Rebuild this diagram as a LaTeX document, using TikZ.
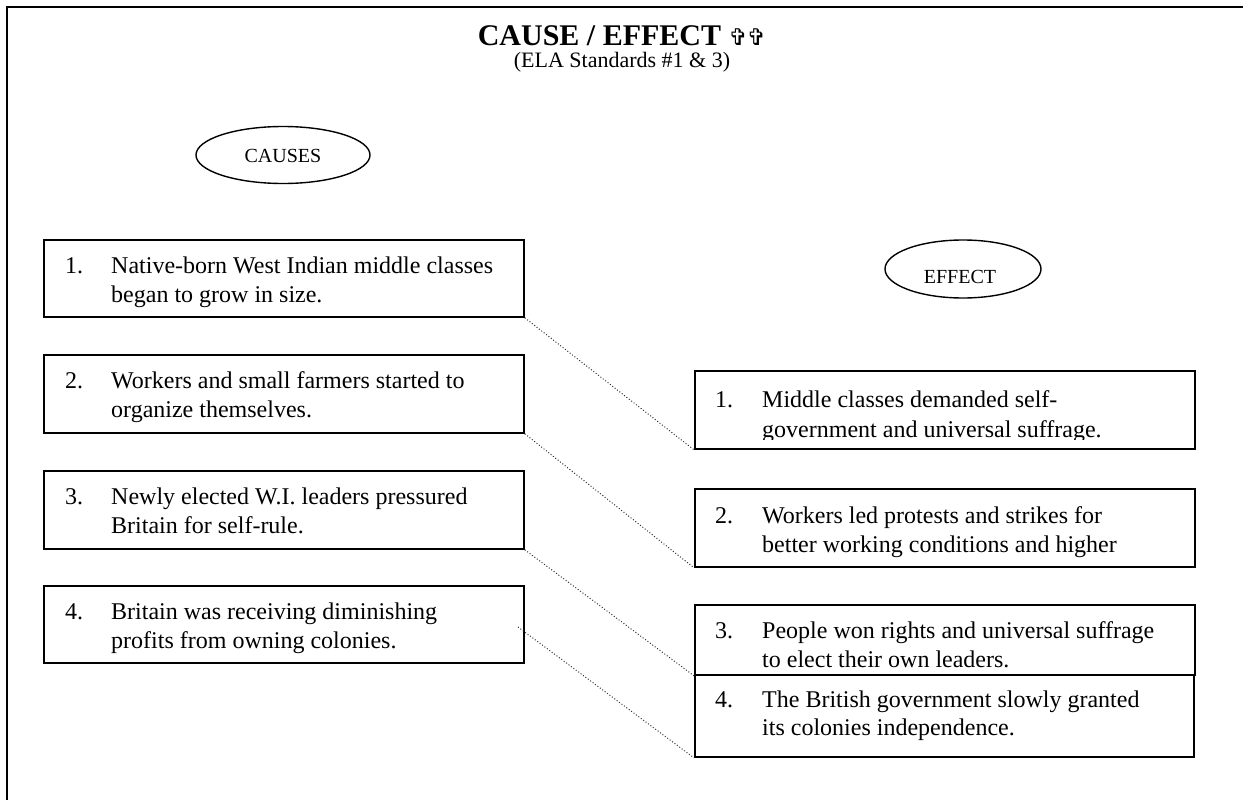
\documentclass[tikz,border=0pt]{standalone}
\usepackage{fontspec}
\setmainfont{Liberation Serif}
\newfontfamily\symfont{DejaVu Sans}
\usetikzlibrary{shapes.geometric}
\tikzset{
  x=1pt, y=-1pt,
  frameline/.style={line width=2pt, black},
  boxnode/.style={draw, line width=1.8pt, rectangle, inner sep=0pt, anchor=north west},
  ovalnode/.style={draw, line width=1.4pt, ellipse, inner sep=0pt, font=\fontsize{20}{20}\selectfont},
  txt/.style={inner sep=0pt, anchor=base west, font=\fontsize{24}{29}\selectfont},
  link/.style={line width=1pt, dash pattern=on 1pt off 2pt, black!80},
}
\begin{document}
\begin{tikzpicture}
\useasboundingbox (0,0) rectangle (1243,800);
% frame
\coordinate (fa) at (7,800);
\coordinate (fb) at (7,7);
\coordinate (fc) at (1243,7);
\draw[frameline] (fa) -- (fb) -- (fc);
% title
\node[inner sep=0pt, anchor=base, font=\fontsize{30}{30}\selectfont\bfseries] (title) at (622,46) {CAUSE / EFFECT {\symfont\mdseries\fontsize{23}{23}\selectfont ✞\kern-1pt✞}};
\node[inner sep=0pt, anchor=base, font=\fontsize{22}{22}\selectfont] (sub) at (622,68) {(ELA Standards \#1 \& 3)};
% ellipses
\node[ovalnode, minimum width=174pt, minimum height=57pt] (causes) at (283,155) {};
\node[inner sep=0pt, anchor=base, font=\fontsize{20}{20}\selectfont] (causeslbl) at (283,162) {CAUSES};
\node[ovalnode, minimum width=156pt, minimum height=58pt] (effect) at (963,269) {};
\node[inner sep=0pt, anchor=base, font=\fontsize{20}{20}\selectfont] (effectlbl) at (960,283) {EFFECT};
% cause boxes
\node[boxnode, minimum width=480pt, minimum height=77pt] (c1) at (43,239) {};
\node[boxnode, minimum width=480pt, minimum height=78pt] (c2) at (43,354) {};
\node[boxnode, minimum width=480pt, minimum height=78pt] (c3) at (43,470) {};
\node[boxnode, minimum width=480pt, minimum height=77pt] (c4) at (43,585) {};
\node[txt] (c1n) at (65,273) {1.};
\node[txt] (c1a) at (111,273) {Native-born West Indian middle classes};
\node[txt] (c1b) at (111,302) {began to grow in size.};
\node[txt] (c2n) at (65,388) {2.};
\node[txt] (c2a) at (111,388) {Workers and small farmers started to};
\node[txt] (c2b) at (111,417) {organize themselves.};
\node[txt] (c3n) at (65,504) {3.};
\node[txt] (c3a) at (111,504) {Newly elected W.I. leaders pressured};
\node[txt] (c3b) at (111,533) {Britain for self-rule.};
\node[txt] (c4n) at (65,619) {4.};
\node[txt] (c4a) at (111,619) {Britain was receiving diminishing};
\node[txt] (c4b) at (111,648) {profits from owning colonies.};
% effect boxes
\node[boxnode, minimum width=500pt, minimum height=78pt] (e1) at (694,370) {};
\node[boxnode, minimum width=500pt, minimum height=78pt] (e2) at (694,488) {};
\node[boxnode, minimum width=500pt, minimum height=70pt] (e3) at (694,604) {};
\node[boxnode, minimum width=499pt, minimum height=82pt] (e4) at (694,674) {};
\begin{scope}
\clip (694,370) rectangle (1194,439);
\node[txt] (e1n) at (715,407) {1.};
\node[txt] (e1a) at (762,407) {Middle classes demanded self-};
\node[txt] (e1b) at (762,437) {government and universal suffrage.};
\end{scope}
\node[txt] (e2n) at (715,523) {2.};
\node[txt] (e2a) at (762,523) {Workers led protests and strikes for};
\node[txt] (e2b) at (762,552) {better working conditions and higher};
\node[txt] (e3n) at (715,638) {3.};
\node[txt] (e3a) at (762,638) {People won rights and universal suffrage};
\node[txt] (e3b) at (762,667) {to elect their own leaders.};
\node[txt] (e4n) at (715,707) {4.};
\node[txt] (e4a) at (762,707) {The British government slowly granted};
\node[txt] (e4b) at (762,735) {its colonies independence.};
% connectors
\coordinate (c4s) at (518,627);
\draw[link] (c1.south east) -- (e1.south west);
\draw[link] (c2.south east) -- (e2.south west);
\draw[link] (c3.south east) -- (e3.south west);
\draw[link] (c4s) -- (e4.south west);
\end{tikzpicture}
\end{document}
